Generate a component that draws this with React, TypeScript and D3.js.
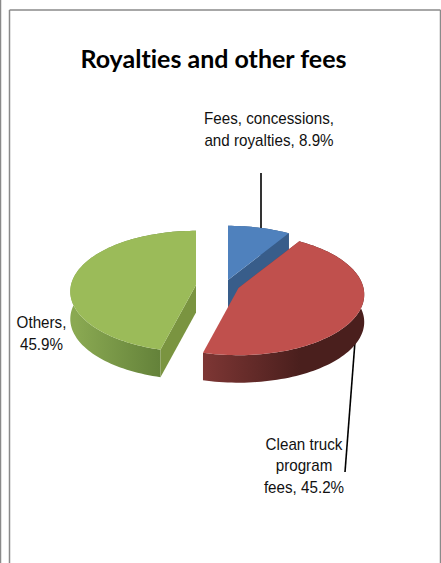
import React from "react";
import * as d3 from "d3";

const categories = ["Fees, concessions, and royalties", "Clean truck program fees", "Others"];
const shares = [8.9, 45.2, 45.9];
const topColors = ["#4f81bd", "#c0504d", "#9bbb59"];
const faceColors = ["#385d8a", "#8c3836", "#7a9440"];
const wallColors = [
  ["#3f6797", "#2f5078"],
  ["#7d3634", "#4a1f1d"],
  ["#8aa952", "#64823a"],
];
const labelLines = [
  ["Fees, concessions,", "and royalties, 8.9%"],
  ["Clean truck", "program", "fees, 45.2%"],
  ["Others,", "45.9%"],
];

// Where each exploded wedge's tip sits on the page.
const tips: [number, number][] = [[228, 280], [238.5, 288], [196, 285]];
const labelAnchors: [number, number][] = [[269, 124], [304, 449.5], [41.5, 328]];
const W = 441;
const H = 563;
const RADIUS = 125;
const FLAT = 60; // vertical half-extent of the tilted disc
const PERSPECTIVE = 0.107;
const DEPTH = 27.5;

type Angles = { startAngle: number; endAngle: number };

function project(tip: [number, number], angle: number, r: number, drop: number): [number, number] {
  const across = r * Math.sin(angle);
  const back = r * Math.cos(angle);
  const s = 1 / (1 + (PERSPECTIVE * back) / RADIUS);
  return [tip[0] + across * s, tip[1] - (back / RADIUS) * FLAT * s + drop];
}

function rimAngles(a: Angles): number[] {
  const n = Math.max(8, Math.ceil((a.endAngle - a.startAngle) / 0.03));
  return d3.range(n + 1).map((i) => a.startAngle + ((a.endAngle - a.startAngle) * i) / n);
}

const line = d3.line();

function topPath(a: Angles, tip: [number, number]) {
  const rim = rimAngles(a).map((t) => project(tip, t, RADIUS, 0));
  return line([project(tip, 0, 0, 0), ...rim]) + "Z";
}

function wallPath(a: Angles, tip: [number, number]) {
  const rim = rimAngles(a);
  const upper = rim.map((t) => project(tip, t, RADIUS, 0));
  const lower = rim.map((t) => project(tip, t, RADIUS, DEPTH)).reverse();
  return line([...upper, ...lower]) + "Z";
}

function facePath(angle: number, tip: [number, number]) {
  return (
    line([
      project(tip, angle, 0, 0),
      project(tip, angle, RADIUS, 0),
      project(tip, angle, RADIUS, DEPTH),
      project(tip, angle, 0, DEPTH),
    ]) + "Z"
  );
}

export default function App() {
  const arcs = d3
    .pie<number>()
    .sort(null)
    .value((d) => d)(shares);
  // The red wedge overlaps the blue one, so it is painted last.
  const paintOrder = [0, 2, 1];
  const faceAngle = [arcs[0].endAngle, arcs[1].startAngle, arcs[2].startAngle];

  return (
    <svg
      width={W}
      height={H}
      viewBox={`0 0 ${W} ${H}`}
      style={{ position: "absolute", left: 0, top: 0, background: "#fff" }}
    >
      <defs>
        {wallColors.map((c, i) => (
          <linearGradient
            key={i}
            id={`wall-${i}`}
            gradientUnits="userSpaceOnUse"
            x1={i === 2 ? 75 : 204}
            x2={i === 2 ? 160 : 300}
            y1={0}
            y2={0}
          >
            <stop offset="0" stopColor={c[0]} />
            <stop offset="1" stopColor={c[1]} />
          </linearGradient>
        ))}
      </defs>

      {/* page frame */}
      <g stroke="#8a8a8a" fill="none">
        <line x1={0.5} y1={0} x2={0.5} y2={H} strokeWidth={1.5} />
        <line x1={9.5} y1={10} x2={9.5} y2={H} strokeWidth={1.5} />
        <line x1={9.5} y1={10} x2={440.5} y2={10} strokeWidth={1.5} />
        <line x1={440.5} y1={10} x2={440.5} y2={H} strokeWidth={1.5} />
      </g>

      <text
        x={213.5}
        y={67.5}
        textAnchor="middle"
        fontFamily="Lato, 'Open Sans', sans-serif"
        fontWeight={700}
        fontSize={25}
        fill="#000"
        style={{ fontVariantLigatures: "none" }}
      >
        Royalties and other fees
      </text>

      {/* leader lines */}
      <g stroke="#000" strokeWidth={1.6}>
        <line x1={261} y1={173} x2={261} y2={232} />
        <line x1={355.5} y1={335} x2={345} y2={472} />
      </g>

      {paintOrder.map((i) => (
        <g key={categories[i]}>
          <path d={wallPath(arcs[i], tips[i])} fill={`url(#wall-${i})`} />
          <path d={facePath(faceAngle[i], tips[i])} fill={faceColors[i]} />
          <path d={topPath(arcs[i], tips[i])} fill={topColors[i]} />
        </g>
      ))}

      <g fontFamily="'Liberation Sans', Arial, sans-serif" fontSize={16} fill="#111" textAnchor="middle">
        {labelLines.map((rows, i) =>
          rows.map((row, j) => (
            <text
              key={row}
              transform={`translate(${labelAnchors[i][0]},${labelAnchors[i][1] + j * 21.7}) scale(0.95,1)`}
            >
              {row}
            </text>
          ))
        )}
      </g>
    </svg>
  );
}
